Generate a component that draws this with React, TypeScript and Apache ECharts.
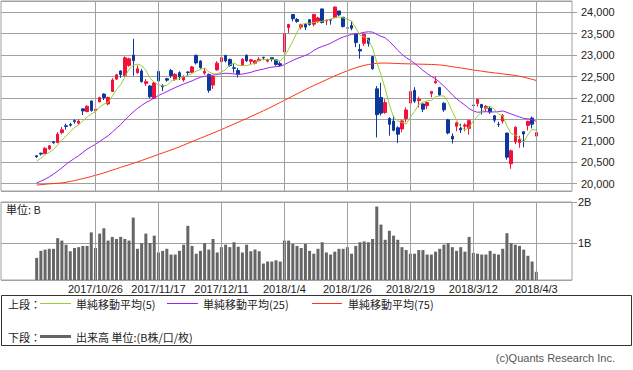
import React, { useEffect, useRef } from 'react';
import * as echarts from 'echarts';

const dates = [
  '2017/10/5','2017/10/6','2017/10/10','2017/10/11','2017/10/12','2017/10/13','2017/10/16','2017/10/17','2017/10/18','2017/10/19',
  '2017/10/20','2017/10/23','2017/10/24','2017/10/25','2017/10/26','2017/10/27','2017/10/30','2017/10/31','2017/11/1','2017/11/2',
  '2017/11/6','2017/11/7','2017/11/8','2017/11/9','2017/11/10','2017/11/13','2017/11/14','2017/11/15','2017/11/16','2017/11/17',
  '2017/11/20','2017/11/21','2017/11/22','2017/11/24','2017/11/27','2017/11/28','2017/11/29','2017/11/30','2017/12/1','2017/12/4',
  '2017/12/5','2017/12/6','2017/12/7','2017/12/8','2017/12/11','2017/12/12','2017/12/13','2017/12/14','2017/12/15','2017/12/18',
  '2017/12/19','2017/12/20','2017/12/21','2017/12/22','2017/12/25','2017/12/26','2017/12/27','2017/12/28','2017/12/29','2018/1/4',
  '2018/1/5','2018/1/9','2018/1/10','2018/1/11','2018/1/12','2018/1/15','2018/1/16','2018/1/17','2018/1/18','2018/1/19',
  '2018/1/22','2018/1/23','2018/1/24','2018/1/25','2018/1/26','2018/1/29','2018/1/30','2018/1/31','2018/2/1','2018/2/2',
  '2018/2/5','2018/2/6','2018/2/7','2018/2/8','2018/2/9','2018/2/13','2018/2/14','2018/2/15','2018/2/16','2018/2/19',
  '2018/2/20','2018/2/21','2018/2/22','2018/2/23','2018/2/26','2018/2/27','2018/2/28','2018/3/1','2018/3/2','2018/3/5',
  '2018/3/6','2018/3/7','2018/3/8','2018/3/9','2018/3/12','2018/3/13','2018/3/14','2018/3/15','2018/3/16','2018/3/19',
  '2018/3/20','2018/3/22','2018/3/23','2018/3/26','2018/3/27','2018/3/28','2018/3/29','2018/3/30','2018/4/2','2018/4/3',
];

const opens = [
  20650,20710,20700,20810,20975,20960,21190,21350,21380,21470,21410,21745,21680,21930,21700,21910,22090,21860,
  22150,22440,22630,22520,22760,23000,22590,22630,22340,22280,21995,22620,22290,22450,22640,22430,22590,22420,22605,22600,
  22995,22860,22580,22550,22300,22655,22850,22995,22900,22705,22640,22770,22995,22855,22810,22870,22950,22860,22940,22890,22800,
  23073,23643,23949,23833,23656,23720,23828,23722,23784,24079,23797,23826,23875,24031,23885,23636,23690,23495,23133,
  23276,23396,22968,22212,22010,21660,21520,21459,21304,21275,21520,21880,22177,21938,21859,21820,22102,22351,22242,
  21878,21490,21106,21340,21289,21340,21290,21832,21872,21849,21760,21758,21582,21384,21459,21181,20464,20973,20959,21211,21358,
  21530,21110,
];
const highs = [
  20665,20720,20850,20900,20995,21200,21320,21400,21420,21500,21500,21750,21830,21940,21770,22030,22110,22030,
  22460,22560,22645,22970,22940,23382,22760,22680,22440,22300,22390,22757,22320,22470,22680,22580,22620,22530,22620,22750,
  23010,22880,22700,22570,22520,22860,22960,23000,22920,22800,22700,22930,23020,22910,22885,22955,22960,22915,22945,22905,22855,
  23506,23730,23953,23865,23735,23739,23833,23962,23898,24084,23831,23829,24129,24031,23885,23690,23787,23495,23257,
  23493,23396,22968,22278,22354,21969,21550,21587,21337,21480,21779,22153,22251,22029,21868,21914,22154,22502,22259,
  21896,21512,21174,21445,21392,21410,21501,21884,21972,21849,21833,21800,21604,21443,21628,21181,20794,21333,21115,21228,21467,
  21566,21210,
];
const lows = [
  20600,20660,20690,20790,20930,20940,21150,21260,21330,21400,21380,21600,21670,21680,21680,21900,21950,21830,
  22140,22420,22470,22500,22730,22520,22560,22360,22280,21990,21970,22370,22160,22380,22470,22400,22420,22380,22520,22580,
  22780,22680,22540,22120,22210,22640,22820,22830,22730,22590,22480,22750,22840,22790,22780,22855,22890,22830,22850,22750,22730,
  23065,23520,23789,23755,23602,23588,23686,23670,23750,23739,23702,23711,23875,23910,23644,23507,23580,23187,22916,
  23212,23199,22659,21079,21591,21627,21120,21220,20950,21197,21435,21793,21884,21778,21669,21738,22015,22332,22042,
  21676,21150,20937,21224,21180,21223,21142,21740,21800,21614,21686,21627,21429,21323,21405,20560,20347,20921,20836,20847,21241,
  21291,21056,
];
const closes = [
  20628,20690,20823,20881,20954,21155,21255,21336,21363,21448,21457,21697,21805,21707,21739,22008,22011,22012,
  22420,22539,22548,22937,22913,22869,22681,22381,22380,22028,22351,22397,22261,22416,22523,22551,22495,22487,22597,22725,
  22819,22707,22622,22178,22498,22811,22938,22866,22758,22694,22553,22901,22868,22892,22866,22903,22939,22892,22912,22784,22765,
  23506,23715,23850,23788,23710,23654,23715,23952,23868,23763,23808,23816,24124,23940,23669,23632,23629,23292,23098,
  23486,23274,22682,21610,21645,21891,21383,21245,21154,21464,21720,22149,21925,21970,21736,21893,22153,22390,22068,
  21724,21182,21042,21418,21253,21368,21469,21824,21968,21777,21804,21677,21481,21381,21591,20617,20766,21318,21031,21159,21454,
  21388,21190,
];
// closes of the sessions before the first candle (for the moving averages)
const priorCloses = [
  19646,19691,19508,19385,19357,19396,19274,19545,19776,19865,19807,19909,20299,20310,20347,20296,20397,20330,20267,20363,
  20356,20400,20614,20626,
];
const ma75 = [
  19965,19975,19985,19995,20000,20008,20016,20030,20050,20070,20095,20115,20140,20165,20195,20220,20250,20280,20315,20345,
  20380,20410,20440,20475,20505,20540,20575,20610,20645,20680,20715,20750,20785,20820,20858,20900,20940,20980,
  21020,21060,21100,21140,21180,21220,21262,21305,21348,21391,21434,21477,21520,
  21565,21610,21655,21700,21745,21795,21845,21895,21945,21995,22045,22095,22145,22195,22245,22290,22335,22380,22425,22470,
  22515,22555,22595,
  22636,22670,22705,22735,22760,22780,22795,22808,22814,22815,22812,22808,22804,22800,22798,22795,22792,22790,22787,22785,
  22782,22778,
  22770,22760,22745,22730,22715,22700,22685,22668,22652,22640,22625,22610,22598,22585,22575,22562,22550,22538,22525,22505,
  22485,22460,22435,22407,
];
// volume, billions of shares
const volumes = [
  0.64,0.81,0.84,0.86,0.86,1.12,1.06,0.96,0.80,0.88,0.90,0.93,0.93,1.26,0.88,1.23,1.36,1.06,1.15,1.10,
  1.15,1.10,1.06,1.62,0.86,1.00,1.23,1.00,1.18,0.77,0.81,0.86,0.72,0.72,0.81,0.96,1.42,0.93,0.74,0.81,
  1.00,0.84,1.10,0.77,0.90,0.96,0.90,1.02,0.91,0.77,0.96,0.80,0.84,0.80,0.50,0.55,0.55,0.58,0.55,
  1.06,1.06,0.98,0.93,0.88,0.98,
  0.81,0.74,0.86,1.02,0.77,0.72,0.79,0.86,0.86,0.90,0.74,0.93,1.02,1.04,1.02,1.10,1.89,1.45,1.08,1.30,
  1.18,1.08,0.90,0.83,0.74,0.74,0.83,0.83,0.72,0.72,0.79,0.86,0.96,1.00,0.90,0.81,0.90,0.79,1.15,0.76,
  0.74,0.72,0.72,0.81,0.74,0.72,0.86,1.24,1.00,0.96,0.93,0.84,0.69,0.55,0.30,
];
const gridDates = ['2017/10/26','2017/11/17','2017/12/11','2018/1/4','2018/1/26','2018/2/19','2018/3/12','2018/4/3'];
const priceTicks = [20000,20500,21000,21500,22000,22500,23000,23500,24000];
const volumeTicks = [1, 2];
const PAD = 8;

const RED = '#f5103a';
const BLUE = '#0c389e';
const C_MA5 = '#9acd32';
const C_MA25 = '#9922ee';
const C_MA75 = '#ff3311';
const GRID = '#a0a0a0';

function movingAverage(period: number): number[] {
  const all = priorCloses.concat(closes);
  const off = priorCloses.length;
  return closes.map((_, i) => {
    let s = 0;
    for (let k = 0; k < period; k++) s += all[off + i - k];
    return Math.round((s / period) * 10) / 10;
  });
}

function pad<T>(arr: T[]): (T | string)[] {
  const p = new Array(PAD).fill('-');
  return [...p, ...arr, ...p];
}

const fmtPrice = (v: number) => {
  const r = Math.round(v);
  if (Math.abs(v - r) > 0.01 || !priceTicks.includes(r)) return '';
  return String(r).replace(/\B(?=(\d{3})+(?!\d))/g, ',');
};
const fmtVol = (v: number) => {
  const t = volumeTicks.find((x) => Math.abs(x - v) < 1e-6);
  return t ? `${t}B` : '';
};

export default function App() {
  const ref = useRef<HTMLDivElement>(null);
  useEffect(() => {
    if (!ref.current) return;
    const chart = echarts.init(ref.current, undefined, { renderer: 'svg' });
    const cats = [
      ...Array.from({ length: PAD }, (_, k) => `padL${k}`),
      ...dates,
      ...Array.from({ length: PAD }, (_, k) => `padR${k}`),
    ];
    const candles = dates.map((_, i) => [opens[i], closes[i], lows[i], highs[i]]);
    const ma5 = movingAverage(5);
    const ma25 = movingAverage(25);
    const vGrid = (xi: number, yi: number) => ({
      type: 'line',
      xAxisIndex: xi,
      yAxisIndex: yi,
      data: new Array(cats.length).fill('-'),
      silent: true,
      z: 1,
      markLine: {
        silent: true,
        symbol: 'none',
        label: { show: false },
        lineStyle: { color: GRID, type: 'solid', width: 1 },
        data: gridDates.map((d) => ({ xAxis: d })),
      },
    });
    const font = "'Liberation Sans', Arial, sans-serif";
    const jp = "'Noto Sans CJK JP', sans-serif";
    const legendText = (text: string, x: number, y: number) => ({
      type: 'text', x, y,
      style: { text, font: `11px ${jp}`, fill: '#222', verticalAlign: 'middle' },
    });
    chart.setOption({
      animation: false,
      backgroundColor: '#fff',
      textStyle: { fontFamily: font },
      grid: [
        { left: 1, right: 61, top: 1, bottom: 179, show: true, borderColor: GRID, borderWidth: 1 },
        { left: 1, right: 61, top: 202, bottom: 90, show: true, borderColor: GRID, borderWidth: 1 },
      ],
      xAxis: [
        {
          type: 'category', gridIndex: 0, data: cats, boundaryGap: true,
          axisLine: { show: false }, axisTick: { show: false }, axisLabel: { show: false }, splitLine: { show: false },
        },
        {
          type: 'category', gridIndex: 1, data: cats, boundaryGap: true,
          axisLine: { show: false }, axisTick: { show: false }, splitLine: { show: false },
          axisLabel: {
            show: true,
            interval: (_i: number, v: string) => gridDates.includes(v),
            fontSize: 11, color: '#222', margin: 3, fontFamily: font, lineHeight: 11,
          },
        },
      ],
      yAxis: [
        {
          type: 'value', gridIndex: 0, position: 'right', min: 19827, max: 24264, splitNumber: 9,
          axisLine: { show: false },
          axisTick: { show: true, length: 5, lineStyle: { color: GRID } },
          axisLabel: { margin: 9, fontSize: 11, color: '#222', formatter: fmtPrice, showMinLabel: false, showMaxLabel: false },
          splitLine: { show: true, lineStyle: { color: GRID, width: 1 } },
        },
        {
          type: 'value', gridIndex: 1, position: 'right', min: 0.1, max: 2.0, splitNumber: 2,
          axisLine: { show: false },
          axisTick: { show: true, length: 5, lineStyle: { color: GRID } },
          axisLabel: { margin: 6, fontSize: 11, color: '#222', formatter: fmtVol, showMinLabel: false, showMaxLabel: true },
          splitLine: { show: true, lineStyle: { color: GRID, width: 1 } },
        },
      ],
      series: [
        vGrid(0, 0),
        vGrid(1, 1),
        {
          type: 'candlestick', xAxisIndex: 0, yAxisIndex: 0, data: pad(candles), barWidth: 3, z: 2,
          itemStyle: { color: RED, color0: BLUE, borderColor: RED, borderColor0: BLUE, borderWidth: 1 },
        },
        { type: 'line', xAxisIndex: 0, yAxisIndex: 0, data: pad(ma75), symbol: 'none', z: 3, lineStyle: { color: C_MA75, width: 1 } },
        { type: 'line', xAxisIndex: 0, yAxisIndex: 0, data: pad(ma25), symbol: 'none', z: 3, lineStyle: { color: C_MA25, width: 1 } },
        { type: 'line', xAxisIndex: 0, yAxisIndex: 0, data: pad(ma5), symbol: 'none', z: 3, lineStyle: { color: C_MA5, width: 1 } },
        {
          type: 'bar', xAxisIndex: 1, yAxisIndex: 1, data: pad(volumes), barWidth: 3, z: 2,
          itemStyle: { color: '#666666' },
        },
      ],
      graphic: [
        { type: 'text', left: 6, top: 203, style: { text: '単位: B', font: `11px ${jp}`, fill: '#222' } },
        { type: 'rect', shape: { x: 1.5, y: 295.5, width: 630, height: 50 }, style: { fill: 'none', stroke: '#333', lineWidth: 1 } },
        legendText('上段：', 8, 304),
        { type: 'line', shape: { x1: 40, y1: 303.5, x2: 71, y2: 303.5 }, style: { stroke: C_MA5, lineWidth: 1 } },
        legendText('単純移動平均(5)', 76, 304),
        { type: 'line', shape: { x1: 167, y1: 303.5, x2: 198, y2: 303.5 }, style: { stroke: C_MA25, lineWidth: 1 } },
        legendText('単純移動平均(25)', 203, 304),
        { type: 'line', shape: { x1: 312, y1: 303.5, x2: 342, y2: 303.5 }, style: { stroke: C_MA75, lineWidth: 1 } },
        legendText('単純移動平均(75)', 348, 304),
        legendText('下段：', 8, 337),
        { type: 'line', shape: { x1: 40, y1: 336.5, x2: 71, y2: 336.5 }, style: { stroke: '#666666', lineWidth: 3 } },
        legendText('出来高 単位:(B株/口/枚)', 76, 337),
        { type: 'text', x: 615, y: 358, style: { text: '(c)Quants Research Inc.', font: `11px ${font}`, fill: '#555', align: 'right', verticalAlign: 'middle' } },
      ],
    });
    return () => chart.dispose();
  }, []);
  return <div ref={ref} style={{ position: 'absolute', left: 0, top: 0, width: 633, height: 370 }} />;
}
